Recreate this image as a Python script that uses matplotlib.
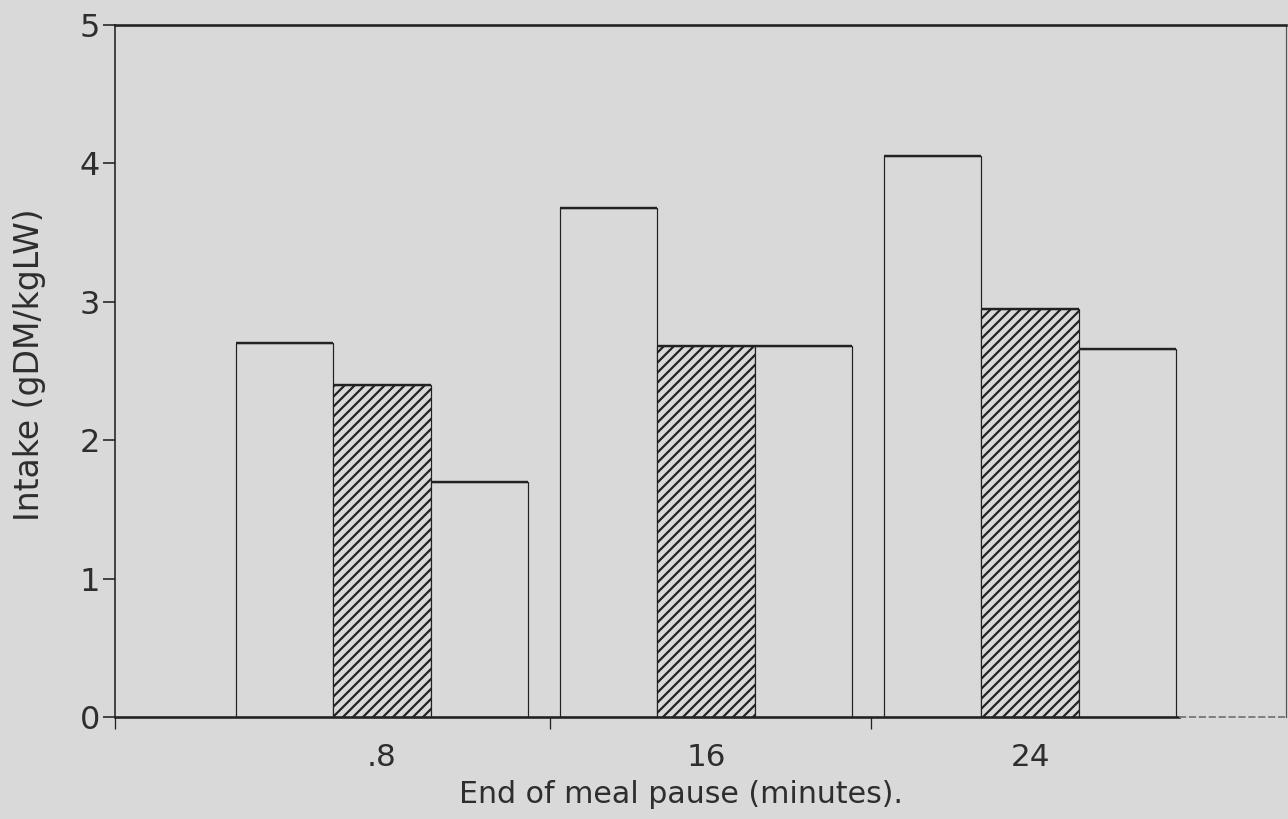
import matplotlib
matplotlib.use("Agg")
import matplotlib.pyplot as plt
import numpy as np

# --- data -------------------------------------------------------------
pause_labels = [".8", "16", "24"]          # end of meal pause (minutes)
series_a = [2.70, 3.68, 4.05]               # first (open) bar of each group
series_b = [2.40, 2.68, 2.95]               # hatched bar
series_c = [1.70, 2.68, 2.66]               # third (open) bar
y_ticks = [0, 1, 2, 3, 4, 5]

# --- styling ------------------------------------------------------------
DPI = 90
W, H = 1288, 819


def pt(px):
    """Convert pixels to points at the figure dpi."""
    return px * 72.0 / DPI


BG = "#d9d9d9"
INK = "#222222"
TXT = "#2e2e2e"

plt.rcParams["font.family"] = ["DejaVu Sans"]
plt.rcParams["hatch.linewidth"] = pt(2.2)
plt.rcParams["hatch.color"] = INK

fig = plt.figure(figsize=(W / DPI, H / DPI), dpi=DPI, facecolor=BG)
ax = fig.add_axes([115 / W, 1 - 717 / H, (1286 - 115) / W, (717 - 25) / H])
ax.set_facecolor(BG)

x = np.arange(len(pause_labels))
bw = 0.30
x_left, x_right = -0.824, 2.79

for off, vals, hatch in [(-bw, series_a, None), (0.0, series_b, "///"), (bw, series_c, None)]:
    ax.bar(x + off, vals, width=bw, facecolor=BG, edgecolor=INK,
           linewidth=pt(1.2), hatch=hatch, zorder=2)
    # heavier top edges of the bars
    ax.hlines(vals, x + off - bw / 2, x + off + bw / 2, colors=INK,
              linewidth=pt(2.4), zorder=3)

ax.set_xlim(x_left, x_right)
ax.set_ylim(0, 5)

# y axis
ax.set_yticks(y_ticks)
ax.set_yticklabels([str(v) for v in y_ticks])
ax.tick_params(axis="y", direction="out", length=pt(12), width=pt(1.6),
               color=INK, labelsize=pt(32), labelcolor=TXT, pad=pt(3))

# x axis: labels under the groups, small marks between groups
ax.set_xticks(x)
ax.set_xticklabels(pause_labels)
ax.tick_params(axis="x", which="major", length=0, labelsize=pt(31),
               labelcolor=TXT, pad=pt(26))
ax.set_xticks([x_left, 0.52, 1.51], minor=True)
ax.tick_params(axis="x", which="minor", direction="out", length=pt(12),
               width=pt(1.3), color=INK)

# frame
ax.spines["top"].set_linewidth(pt(2.6))
ax.spines["top"].set_color(INK)
ax.spines["left"].set_linewidth(pt(1.6))
ax.spines["left"].set_color(INK)
ax.spines["right"].set_linewidth(pt(1.2))
ax.spines["right"].set_color("#555555")
ax.spines["bottom"].set_linewidth(pt(2.6))
ax.spines["bottom"].set_color(INK)
ax.spines["bottom"].set_bounds(x_left, 2.46)
ax.plot([2.46, x_right], [0, 0], color="#777777", linewidth=pt(1.8),
        linestyle=(0, (4, 1.5)), clip_on=False, zorder=4)

ax.set_xlabel("End of meal pause (minutes).", fontsize=pt(30), color=TXT)
ax.xaxis.set_label_coords(0.483, -0.112)
ax.xaxis.label.set_va("center")
ax.set_ylabel("Intake (gDM/kgLW)", fontsize=pt(33), color=TXT)
ax.yaxis.set_label_coords(-0.073, 0.509)
ax.yaxis.label.set_va("center")

fig.savefig("out.png", dpi=DPI, facecolor=BG)
